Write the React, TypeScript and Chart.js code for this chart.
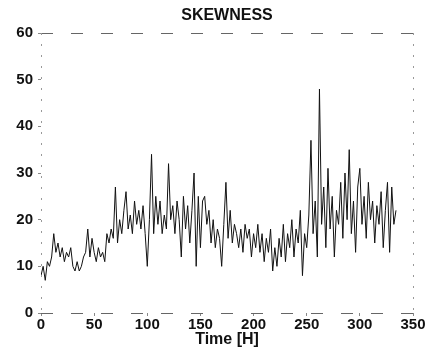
import React, { useEffect, useRef } from "react";
import { Chart, registerables } from "chart.js";

Chart.register(...registerables);

const TITLE = "SKEWNESS";
const X_TITLE = "Time [H]";
const X_MIN = 0;
const X_MAX = 350;
const Y_MIN = 0;
const Y_MAX = 60;
const X_TICK_STEP = 50;
const Y_TICK_STEP = 10;
const TIME_STEP_H = 2;

// skewness sampled every 2 hours, starting at t = 0 h
const skewness = [
  8, 10, 7, 11, 10, 12, 17, 13, 15, 12,
  14, 11, 13, 12, 14, 10, 9, 11, 9, 10,
  12, 13, 18, 12, 16, 13, 11, 14, 12, 13,
  11, 17, 15, 18, 16, 27, 15, 20, 17, 22,
  26, 18, 21, 17, 24, 19, 22, 18, 23, 17,
  10, 20, 34, 17, 25, 19, 24, 17, 21, 18,
  32, 20, 23, 17, 24, 20, 12, 25, 18, 23,
  15, 22, 30, 10, 25, 14, 24, 25, 19, 22,
  15, 20, 14, 18, 16, 10, 19, 28, 16, 22,
  15, 19, 17, 14, 18, 13, 19, 16, 18, 12,
  17, 14, 19, 13, 17, 11, 16, 13, 18, 9,
  14, 10, 16, 12, 19, 11, 17, 14, 20, 12,
  18, 15, 22, 8, 17, 14, 21, 37, 17, 24,
  12, 48, 19, 27, 14, 31, 18, 25, 12, 22,
  19, 28, 16, 30, 20, 35, 17, 24, 13, 27,
  31, 19, 25, 16, 28, 20, 24, 15, 23, 19,
  26, 14, 22, 28, 13, 27, 19, 22,
];

const times = skewness.map((_, i) => i * TIME_STEP_H);

const FONT_FAMILY = "'Liberation Sans', Arial, Helvetica, sans-serif";

const framePlugin = {
  id: "scanFrame",
  afterDatasetsDraw(chart: any) {
    const { ctx, chartArea } = chart;
    const { left, right, top, bottom } = chartArea;
    ctx.save();
    ctx.strokeStyle = "#666";
    ctx.lineWidth = 1;
    ctx.setLineDash([12, 18]);
    ctx.beginPath();
    ctx.moveTo(left, top + 0.5);
    ctx.lineTo(right, top + 0.5);
    ctx.moveTo(left, bottom + 0.5);
    ctx.lineTo(right, bottom + 0.5);
    ctx.stroke();
    ctx.setLineDash([2, 9]);
    ctx.strokeStyle = "#999";
    ctx.beginPath();
    ctx.moveTo(left + 0.5, top);
    ctx.lineTo(left + 0.5, bottom);
    ctx.moveTo(right + 0.5, top);
    ctx.lineTo(right + 0.5, bottom);
    ctx.stroke();
    ctx.restore();
  },
};

export default function App() {
  const canvasRef = useRef<HTMLCanvasElement | null>(null);

  useEffect(() => {
    document.body.style.margin = "0";
    const canvas = canvasRef.current;
    if (!canvas) return;
    const chart = new Chart(canvas, {
      type: "line",
      data: {
        datasets: [
          {
            label: TITLE,
            data: times.map((t, i) => ({ x: t, y: skewness[i] })),
            borderColor: "#111",
            borderWidth: 1,
            pointRadius: 0,
            tension: 0,
            fill: false,
          },
        ],
      },
      options: {
        animation: false,
        responsive: false,
        devicePixelRatio: 1,
        layout: { padding: { left: 0, right: 23, top: 0, bottom: 0 } },
        plugins: {
          legend: { display: false },
          tooltip: { enabled: false },
          title: {
            display: true,
            fullSize: false,
            text: TITLE,
            color: "#111",
            font: { family: FONT_FAMILY, size: 16, weight: "bold", lineHeight: 1.2 },
            padding: { top: 6.4, bottom: 7.4 },
          },
        },
        scales: {
          x: {
            type: "linear",
            min: X_MIN,
            max: X_MAX,
            afterFit: (s: any) => {
              s.height = 38;
            },
            grid: { display: true, drawOnChartArea: false, tickLength: 3, color: "#888" },
            border: { display: false },
            ticks: {
              stepSize: X_TICK_STEP,
              padding: 0,
              color: "#111",
              maxRotation: 0,
              font: { family: FONT_FAMILY, size: 15, weight: "bold", lineHeight: 1.2 },
            },
            title: {
              display: true,
              text: X_TITLE,
              color: "#111",
              font: { family: FONT_FAMILY, size: 16, weight: "bold", lineHeight: 1.2 },
              padding: { top: 0, bottom: 1.4 },
            },
          },
          y: {
            type: "linear",
            min: Y_MIN,
            max: Y_MAX,
            afterFit: (s: any) => {
              s.width = 41;
            },
            grid: { display: true, drawOnChartArea: false, tickLength: 3, color: "#888" },
            border: { display: false },
            ticks: {
              stepSize: Y_TICK_STEP,
              padding: 5,
              color: "#111",
              font: { family: FONT_FAMILY, size: 15, weight: "bold", lineHeight: 1.2 },
            },
          },
        },
      },
      plugins: [framePlugin],
    });
    return () => chart.destroy();
  }, []);

  return (
    <div style={{ position: "absolute", left: 0, top: 0, width: 436, height: 351, background: "#fff" }}>
      <canvas ref={canvasRef} width={436} height={351} />
    </div>
  );
}
